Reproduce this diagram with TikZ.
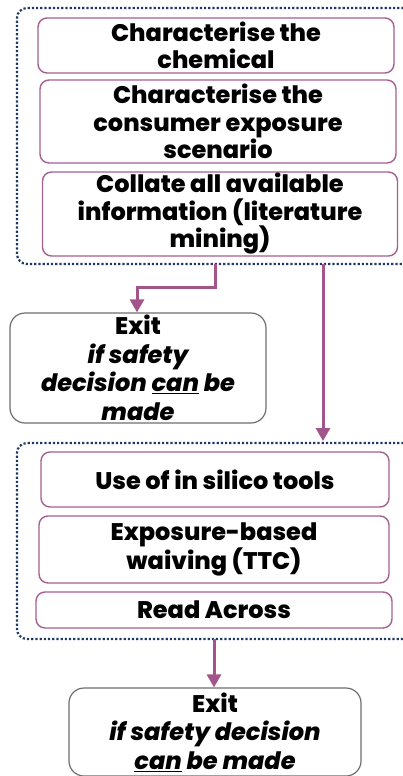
\documentclass[tikz,border=0pt]{standalone}
\usepackage{fontspec}
\setmainfont{Poppins}[BoldFont={* ExtraBold}, BoldItalicFont={* ExtraBold Italic}]
\usetikzlibrary{arrows.meta}
\definecolor{boxpurple}{HTML}{A5608F}
\definecolor{arrowpurple}{HTML}{A3548A}
\definecolor{groupnavy}{HTML}{1F3864}
\definecolor{exitgray}{HTML}{6E6E6E}
\tikzset{
  stepbox/.style={draw=boxpurple, line width=1.4pt, rounded corners=9pt, fill=white,
    align=center, inner sep=0pt, font=\bfseries\fontsize{24}{27.5}\selectfont},
  exitbox/.style={draw=exitgray, line width=1.2pt, rounded corners=15pt, fill=white,
    align=center, inner sep=0pt, font=\bfseries\fontsize{24}{28.5}\selectfont},
  groupline/.style={draw=groupnavy, line width=2.2pt, dotted, rounded corners=10pt},
  flow/.style={draw=arrowpurple, line width=3pt, -{Triangle[width=14pt,length=13pt]}},
}
\begin{document}
\begin{tikzpicture}[x=1pt,y=-1pt]
\useasboundingbox (0,0) rectangle (403,776);

% first group: characterisation steps
\draw[groupline] (412,8) -- (17,8) -- (17,264) -- (412,264);
\node[stepbox, minimum width=356pt, minimum height=55pt] (chem) at (216,45.5)
  {Characterise the\\chemical};
\node[stepbox, minimum width=356pt, minimum height=83pt] (scen) at (218,121.5)
  {Characterise the\\consumer exposure\\scenario};
\node[stepbox, minimum width=355pt, minimum height=84pt] (coll) at (220,214)
  {Collate all available\\information (literature\\mining)};

% second group: non-testing approaches
\draw[groupline] (412,443) -- (17,443) -- (17,639) -- (412,639);
\node[stepbox, minimum width=348pt, minimum height=55pt] (silico) at (215,479.5)
  {Use of in silico tools};
\node[stepbox, minimum width=350pt, minimum height=67pt] (waive) at (214,549.5)
  {Exposure-based\\waiving (TTC)};
\node[stepbox, minimum width=356pt, minimum height=36pt] (read) at (214,610)
  {Read Across};

% exits
\node[exitbox, minimum width=256pt, minimum height=110pt] (exitA) at (138,368)
  {Exit\\\itshape if safety\\\itshape decision \underline{can} be\\\itshape made};
\node[exitbox, minimum width=292pt, minimum height=88pt] (exitB) at (215,732)
  {Exit\\\itshape if safety decision\\\itshape \underline{can} be made};

% connector anchors on the dotted groups
\coordinate (g1a) at (215,264);
\coordinate (g1b) at (323,264);
\coordinate (g2top) at (323,441);
\coordinate (g2b) at (214,639);

\draw[flow] (g1a) |- (137,287) -- (exitA.north -| 137,0);
\draw[flow] (g1b) -- (g2top);
\draw[flow] (g2b) -- (exitB.north -| g2b);
\end{tikzpicture}
\end{document}
